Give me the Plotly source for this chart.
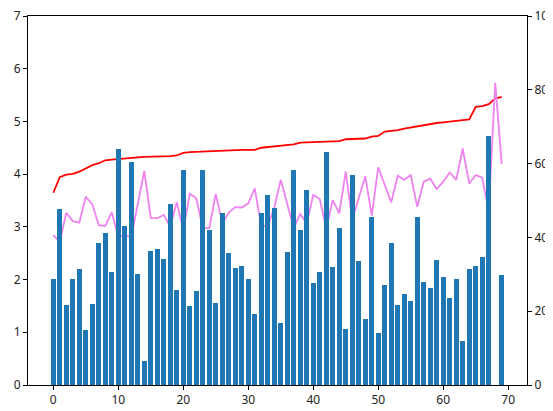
import plotly.graph_objects as go

x_vals = list(range(70))

bar_values = [
    2.01, 3.34, 1.52, 2.01, 2.20, 1.04, 1.54, 2.69, 2.88, 2.14,
    4.48, 3.02, 4.23, 2.11, 0.46, 2.54, 2.58, 2.39, 3.43, 1.80,
    4.08, 1.50, 1.78, 4.08, 2.94, 1.56, 3.26, 2.50, 2.22, 2.26,
    2.01, 1.35, 3.26, 3.60, 3.36, 1.18, 2.52, 4.08, 2.94, 3.70,
    1.94, 2.14, 4.42, 2.24, 2.98, 1.06, 3.98, 2.35, 1.25, 3.19,
    0.99, 1.90, 2.69, 1.52, 1.73, 1.59, 3.19, 1.95, 1.84, 2.37,
    2.05, 1.65, 2.01, 0.83, 2.20, 2.26, 2.43, 4.72, None, 2.09,
]

red_values = [
    52.1, 56.3, 57.0, 57.2, 57.8, 58.7, 59.6, 60.1, 60.9, 61.1,
    61.3, 61.4, 61.7, 61.7, 61.8, 61.8, 61.9, 61.9, 62.0, 62.2,
    62.9, 63.1, 63.2, 63.3, 63.4, 63.5, 63.6, 63.6, 63.7, 63.7,
    63.7, 63.7, 64.3, 64.5, 64.8, 65.0, 65.1, 65.2, 65.7, 65.8,
    65.8, 65.9, 66.0, 66.1, 66.1, 66.6, 66.6, 66.7, 66.8, 67.3,
    67.5, 68.7, 68.8, 69.1, 69.5, 69.8, 70.3, 70.5, 70.7, 71.0,
    71.2, 71.3, 71.6, 71.8, 72.0, 75.4, 75.6, 76.1, 77.6, 78.1,
]

violet_values = [
    40.6, 38.8, 46.7, 44.4, 44.0, 51.0, 49.0, 43.3, 43.1, 46.8,
    40.2, 40.6, 40.0, 49.0, 58.0, 45.3, 45.2, 46.1, 42.9, 49.5,
    42.0, 51.8, 50.6, 42.5, 42.5, 51.8, 43.8, 46.7, 48.2, 48.1,
    49.2, 53.3, 43.1, 43.1, 48.0, 55.6, 49.2, 42.5, 46.3, 43.8,
    51.5, 50.4, 42.5, 50.1, 46.5, 57.8, 44.7, 50.7, 56.6, 45.9,
    59.0, 54.2, 49.5, 56.7, 55.6, 56.9, 48.3, 55.1, 55.9, 53.1,
    55.1, 57.6, 55.6, 64.1, 54.6, 56.9, 56.2, 47.0, 81.9, 59.9,
]

left_ticks = [0, 1, 2, 3, 4, 5, 6, 7]
right_ticks = [0, 20, 40, 60, 80, 100]
x_ticks = [0, 10, 20, 30, 40, 50, 60, 70]

fig = go.Figure()

# Lines on the primary y axis (shown on the right), drawn beneath the bars
fig.add_trace(go.Scatter(x=x_vals, y=red_values, mode="lines",
                         line=dict(color="red", width=1.8), yaxis="y",
                         showlegend=False))
fig.add_trace(go.Scatter(x=x_vals, y=violet_values, mode="lines",
                         line=dict(color="violet", width=1.8), yaxis="y",
                         showlegend=False))
# Bars on the overlaying axis (shown on the left), drawn on top
fig.add_trace(go.Bar(x=x_vals, y=bar_values, width=0.8,
                     marker=dict(color="#1f77b4", line=dict(width=0)),
                     yaxis="y2", showlegend=False))

tickfont = dict(family="Noto Sans", size=12, color="#222")

# The page body has an 8px margin, so the figure is sized to fit inside it
fig.update_layout(
    width=545, height=403,
    margin=dict(l=20, r=26, t=8, b=26),
    paper_bgcolor="white", plot_bgcolor="white",
    bargap=0,
    xaxis=dict(range=[-3.89, 72.89], tickvals=x_ticks, showgrid=False,
               zeroline=False, showline=True, linecolor="black", linewidth=1,
               mirror=True, ticks="outside", ticklen=4, tickcolor="black",
               tickfont=tickfont, automargin=False, ticklabeloverflow="allow"),
    yaxis=dict(range=[0, 100], tickvals=right_ticks, side="right",
               showgrid=False, zeroline=False, showline=True,
               linecolor="black", linewidth=1, ticks="outside", ticklen=4,
               tickcolor="black", tickfont=tickfont, automargin=False,
               ticklabeloverflow="allow"),
    yaxis2=dict(range=[0, 7], tickvals=left_ticks, side="left",
                overlaying="y", showgrid=False, zeroline=False,
                showline=True, linecolor="black", linewidth=1,
                ticks="outside", ticklen=4, tickcolor="black",
                tickfont=tickfont, automargin=False,
                ticklabeloverflow="allow"),
)

fig.write_html("out.html")
